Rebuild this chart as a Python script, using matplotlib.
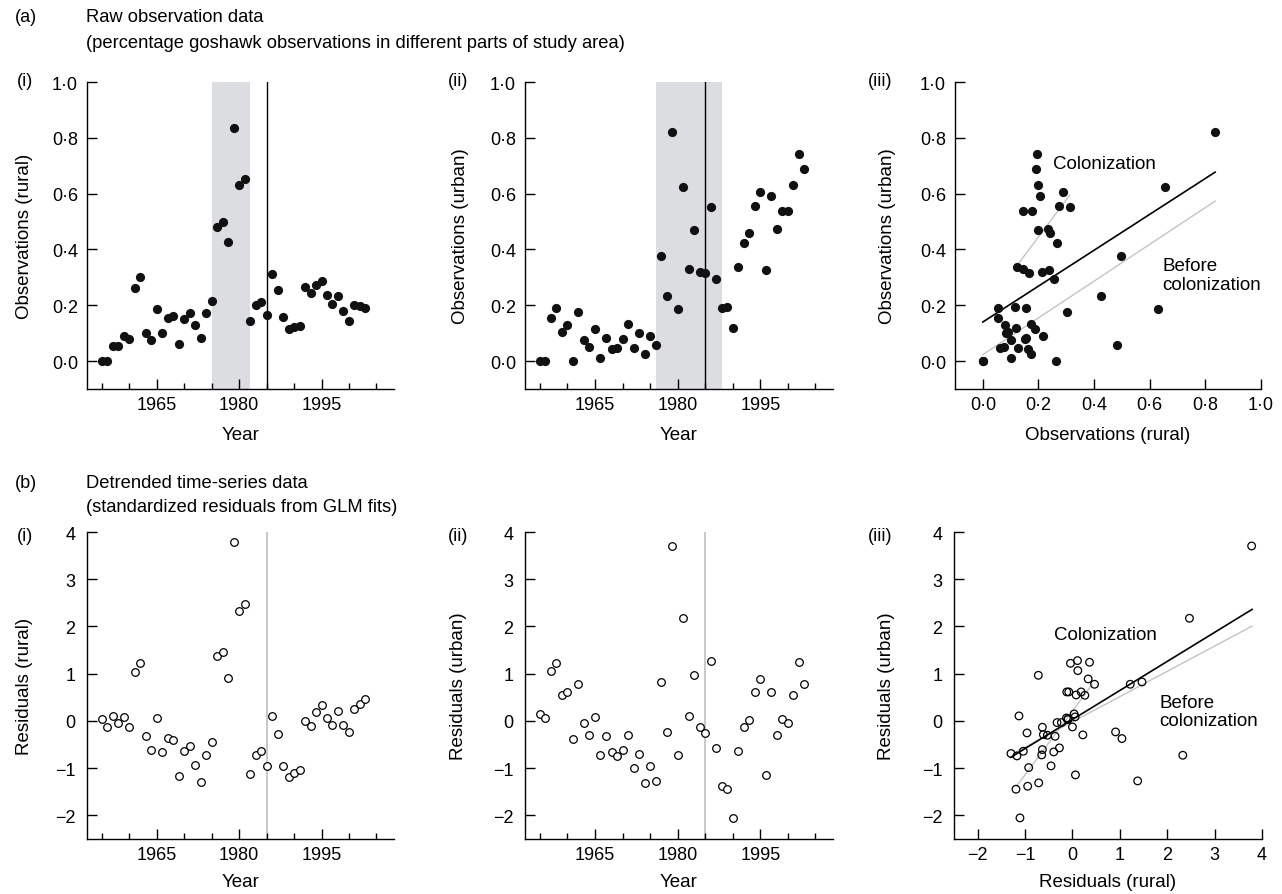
import numpy as np
import matplotlib
matplotlib.use("Agg")
import matplotlib.pyplot as plt
from matplotlib.ticker import FixedLocator, FuncFormatter

plt.rcParams['font.family'] = ['Liberation Sans', 'DejaVu Sans']

# ---------------- data ----------------
years = list(range(1955, 2004))

rural_obs = [0.0, 0.0, 0.054, 0.054, 0.091, 0.080, 0.262, 0.303, 0.102, 0.076,
             0.188, 0.100, 0.154, 0.161, 0.061, 0.151, 0.174, 0.128, 0.082, 0.173,
             0.215, 0.481, 0.498, 0.425, 0.835, 0.630, 0.654, 0.143, 0.200, 0.213,
             0.165, 0.313, 0.256, 0.157, 0.116, 0.121, 0.124, 0.265, 0.243, 0.274,
             0.288, 0.238, 0.204, 0.234, 0.178, 0.145, 0.200, 0.196, 0.190]

urban_obs = [0.0, 0.0, 0.155, 0.190, 0.106, 0.128, 0.0, 0.177, 0.074, 0.050,
             0.116, 0.012, 0.084, 0.045, 0.047, 0.078, 0.134, 0.048, 0.102, 0.025,
             0.091, 0.056, 0.375, 0.233, 0.821, 0.186, 0.622, 0.331, 0.471, 0.321,
             0.315, 0.553, 0.295, 0.191, 0.194, 0.119, 0.337, 0.424, 0.458, 0.557,
             0.607, 0.327, 0.593, 0.473, 0.538, 0.538, 0.631, 0.743, 0.689]

rural_res = [0.035, -0.127, 0.113, -0.042, 0.078, -0.120, 1.044, 1.220, -0.325, -0.614,
             0.056, -0.649, -0.367, -0.395, -1.171, -0.635, -0.529, -0.924, -1.298, -0.713,
             -0.452, 1.376, 1.467, 0.910, 3.781, 2.328, 2.469, -1.129, -0.720, -0.635,
             -0.959, 0.106, -0.275, -0.945, -1.192, -1.108, -1.037, 0.0, -0.099, 0.183,
             0.332, 0.063, -0.078, 0.219, -0.092, -0.233, 0.261, 0.360, 0.466]

urban_res = [0.148, 0.063, 1.065, 1.220, 0.550, 0.614, -0.374, 0.776, -0.035, -0.289,
             0.085, -0.720, -0.325, -0.656, -0.741, -0.607, -0.303, -0.988, -0.691, -1.312,
             -0.952, -1.270, 0.825, -0.233, 3.704, -0.727, 2.173, 0.106, 0.966, -0.134,
             -0.254, 1.277, -0.571, -1.383, -1.446, -2.053, -0.642, -0.127, 0.028, 0.614,
             0.889, -1.143, 0.614, -0.296, 0.049, -0.035, 0.543, 1.242, 0.776]

# shaded colonisation windows and reference year
shade_rural = (1975, 1982)
shade_urban = (1976, 1988)
ref_year = 1985

# regression fits (intercept, slope, x-start, x-end)
obs_fit_all = (0.140, 0.643, 0.0, 0.835)
obs_fit_before = (0.023, 0.659, 0.0, 0.835)
obs_fit_colon = (0.179, 1.33, 0.125, 0.312)
res_fit_all = (0.03, 0.615, -1.30, 3.79)
res_fit_before = (-0.02, 0.535, -1.20, 3.79)
res_fit_colon = (0.21, 1.35, -1.18, 0.42)

year_major = [1965, 1980, 1995]
year_minor = [1955, 1960, 1970, 1975, 1985, 1990, 2000, 2005]
obs_ticks = [0.0, 0.2, 0.4, 0.6, 0.8, 1.0]
res_ticks = [-2, -1, 0, 1, 2, 3, 4]

# ---------------- figure ----------------
W, H = 1282, 895
fig = plt.figure(figsize=(W / 100, H / 100), dpi=100)

def ax_at(x0, x1, ytop, ybot):
    return fig.add_axes([x0 / W, 1 - ybot / H, (x1 - x0) / W, (ybot - ytop) / H])

TICK_FS = 13
LAB_FS = 13.5
GREY = '#c4c4c4'
SHADE = '#dcdde0'
DOT_S = 44
RING_S = 30

dot_fmt = FuncFormatter(lambda v, p: f"{v:.1f}".replace('.', '\u00b7').replace('-', '\u2212'))
int_fmt = FuncFormatter(lambda v, p: f"{int(round(v))}".replace('-', '\u2212'))

def style(ax, ypad):
    for s in ['top', 'right']:
        ax.spines[s].set_visible(False)
    for s in ['left', 'bottom']:
        ax.spines[s].set_linewidth(1.0)
    ax.tick_params(axis='both', which='major', direction='in', length=7, width=1.0,
                   labelsize=TICK_FS, colors='black')
    ax.tick_params(axis='x', which='major', pad=5)
    ax.tick_params(axis='y', which='major', pad=ypad)
    ax.tick_params(axis='x', which='minor', direction='in', length=4, width=1.0)

def year_axis(ax):
    ax.set_xlim(1952.3, 2008.2)
    ax.xaxis.set_major_locator(FixedLocator(year_major))
    ax.xaxis.set_minor_locator(FixedLocator(year_minor))
    ax.xaxis.set_major_formatter(FuncFormatter(lambda v, p: f"{int(v)}"))

# ---- (a)(i)
ax1 = ax_at(87, 394, 83, 390)
ax1.set_ylim(-0.1, 1.0)
year_axis(ax1)
ax1.axvspan(*shade_rural, color=SHADE, lw=0, zorder=0)
ax1.axvline(ref_year, color='black', lw=1.0, zorder=1)
ax1.scatter(years, rural_obs, s=DOT_S, color='#111111', zorder=3, linewidths=0)
ax1.yaxis.set_major_locator(FixedLocator(obs_ticks))
ax1.yaxis.set_major_formatter(dot_fmt)
style(ax1, 6.5)
ax1.set_ylabel('Observations (rural)', fontsize=LAB_FS)
ax1.yaxis.set_label_coords(-0.1775, 0.5)
ax1.set_xlabel('Year', fontsize=LAB_FS)
ax1.xaxis.set_label_coords(0.5, -0.122)

# ---- (a)(ii)
ax2 = ax_at(525, 833, 83, 390)
ax2.set_ylim(-0.1, 1.0)
year_axis(ax2)
ax2.axvspan(*shade_urban, color=SHADE, lw=0, zorder=0)
ax2.axvline(ref_year, color='black', lw=1.0, zorder=1)
ax2.scatter(years, urban_obs, s=DOT_S, color='#111111', zorder=3, linewidths=0)
ax2.yaxis.set_major_locator(FixedLocator(obs_ticks))
ax2.yaxis.set_major_formatter(dot_fmt)
style(ax2, 6.5)
ax2.set_ylabel('Observations (urban)', fontsize=LAB_FS)
ax2.yaxis.set_label_coords(-0.1834, 0.5)
ax2.set_xlabel('Year', fontsize=LAB_FS)
ax2.xaxis.set_label_coords(0.5, -0.122)

# ---- (a)(iii)
ax3 = ax_at(955, 1261, 83, 390)
ax3.set_xlim(-0.1, 1.0)
ax3.set_ylim(-0.1, 1.0)
ax3.scatter(rural_obs, urban_obs, s=DOT_S, color='#111111', zorder=3, linewidths=0)
for (b0, b1, xs, xe), col, lw in [(obs_fit_before, GREY, 1.0), (obs_fit_colon, GREY, 1.0),
                                  (obs_fit_all, 'black', 1.2)]:
    xx = np.array([xs, xe])
    ax3.plot(xx, b0 + b1 * xx, color=col, lw=lw, zorder=2)
ax3.xaxis.set_major_locator(FixedLocator(obs_ticks))
ax3.yaxis.set_major_locator(FixedLocator(obs_ticks))
ax3.xaxis.set_major_formatter(dot_fmt)
ax3.yaxis.set_major_formatter(dot_fmt)
style(ax3, 6.5)
ax3.set_ylabel('Observations (urban)', fontsize=LAB_FS)
ax3.yaxis.set_label_coords(-0.1944, 0.5)
ax3.set_xlabel('Observations (rural)', fontsize=LAB_FS)
ax3.xaxis.set_label_coords(0.5, -0.122)
ax3.text(0.254, 0.707, 'Colonization', fontsize=LAB_FS, va='center', ha='left')
ax3.text(0.646, 0.31, 'Before\ncolonization', fontsize=LAB_FS, va='center', ha='left',
         linespacing=1.15)

# ---- (b)(i)
bx1 = ax_at(87, 394, 533, 840)
bx1.set_ylim(-2.5, 4)
year_axis(bx1)
bx1.axvline(ref_year, color=GREY, lw=1.3, zorder=1)
bx1.scatter(years, rural_res, s=RING_S, facecolors='white', edgecolors='black',
            linewidths=0.9, zorder=3)
bx1.yaxis.set_major_locator(FixedLocator(res_ticks))
bx1.yaxis.set_major_formatter(int_fmt)
style(bx1, 8.5)
bx1.set_ylabel('Residuals (rural)', fontsize=LAB_FS)
bx1.yaxis.set_label_coords(-0.1775, 0.5)
bx1.set_xlabel('Year', fontsize=LAB_FS)
bx1.xaxis.set_label_coords(0.5, -0.112)

# ---- (b)(ii)
bx2 = ax_at(525, 833, 533, 840)
bx2.set_ylim(-2.5, 4)
year_axis(bx2)
bx2.axvline(ref_year, color=GREY, lw=1.3, zorder=1)
bx2.scatter(years, urban_res, s=RING_S, facecolors='white', edgecolors='black',
            linewidths=0.9, zorder=3)
bx2.yaxis.set_major_locator(FixedLocator(res_ticks))
bx2.yaxis.set_major_formatter(int_fmt)
style(bx2, 8.5)
bx2.set_ylabel('Residuals (urban)', fontsize=LAB_FS)
bx2.yaxis.set_label_coords(-0.1867, 0.5)
bx2.set_xlabel('Year', fontsize=LAB_FS)
bx2.xaxis.set_label_coords(0.5, -0.112)

# ---- (b)(iii)
bx3 = ax_at(954, 1262, 533, 840)
bx3.set_xlim(-2.5, 4)
bx3.set_ylim(-2.5, 4)
for (b0, b1, xs, xe), col, lw in [(res_fit_before, GREY, 1.0), (res_fit_colon, GREY, 1.0),
                                  (res_fit_all, 'black', 1.2)]:
    xx = np.array([xs, xe])
    bx3.plot(xx, b0 + b1 * xx, color=col, lw=lw, zorder=2)
bx3.scatter(rural_res, urban_res, s=RING_S, facecolors='none', edgecolors='black',
            linewidths=0.9, zorder=3)
bx3.xaxis.set_major_locator(FixedLocator(res_ticks))
bx3.yaxis.set_major_locator(FixedLocator(res_ticks))
bx3.xaxis.set_major_formatter(int_fmt)
bx3.yaxis.set_major_formatter(int_fmt)
style(bx3, 8.5)
bx3.set_ylabel('Residuals (urban)', fontsize=LAB_FS)
bx3.yaxis.set_label_coords(-0.193, 0.5)
bx3.set_xlabel('Residuals (rural)', fontsize=LAB_FS)
bx3.xaxis.set_label_coords(0.5, -0.112)
bx3.text(-0.40, 1.834, 'Colonization', fontsize=LAB_FS, va='center', ha='left')
bx3.text(1.84, 0.20, 'Before\ncolonization', fontsize=LAB_FS, va='center', ha='left',
         linespacing=1.15)

# ---------------- header texts ----------------
def ftext(x, y, s, fs=13):
    fig.text(x / W, 1 - y / H, s, fontsize=fs, ha='left', va='center')

ftext(15, 18, '(a)')
ftext(86, 18, 'Raw observation data', 13.2)
ftext(86, 43, '(percentage goshawk observations in different parts of study area)', 13.2)
ftext(15, 484, '(b)')
ftext(86, 484, 'Detrended time-series data', 13.2)
ftext(86, 508, '(standardized residuals from GLM fits)', 13.2)
for y in (82, 537):
    ftext(17, y, '(i)')
    ftext(448, y, '(ii)')
    ftext(868, y, '(iii)')

fig.savefig('out.png', dpi=100, facecolor='white')
